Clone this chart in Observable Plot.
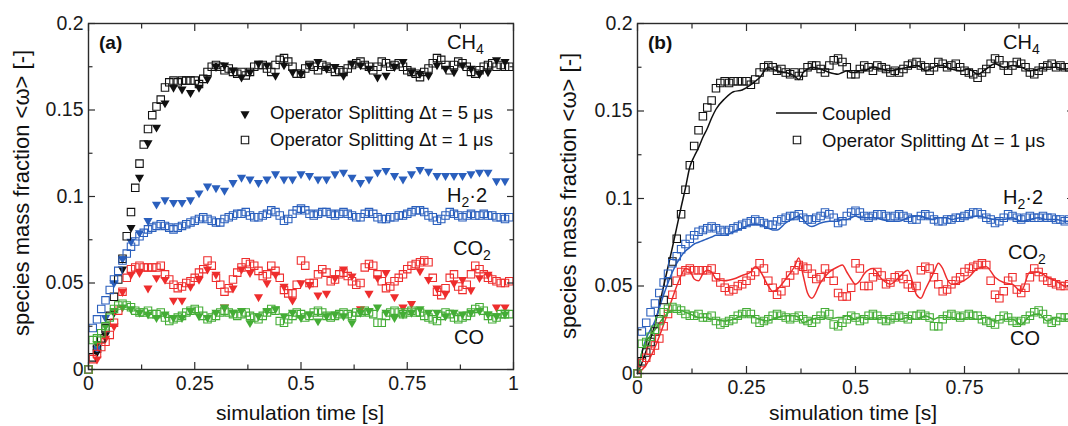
<!DOCTYPE html>
<html>
<head>
<meta charset="utf-8">
<script src="https://cdn.jsdelivr.net/npm/d3@7"></script>
<script src="https://cdn.jsdelivr.net/npm/@observablehq/plot@0.6"></script>
<style>
  html, body { margin: 0; padding: 0; background: #fff; }
  body { width: 1068px; height: 426px; overflow: hidden; position: relative;
         font-family: "Liberation Sans", Arial, sans-serif; }
  #pa { position: absolute; left: 0; top: 0; width: 540px; height: 426px; }
  #pb { position: absolute; left: 540px; top: 0; width: 543px; height: 426px; }
  #pa svg, #pb svg { max-width: none !important; display: block; }
  #ov { position: absolute; left: 0; top: 0; pointer-events: none; }
  #ov text { font-family: "Liberation Sans", Arial, sans-serif; fill: #111; }
</style>
</head>
<body>
<div id="pa"></div>
<div id="pb"></div>
<svg id="ov" width="1068" height="426"></svg>
<script>
// ---------------- data ----------------
// sampling times of the Operator Splitting dt = 1 us series (squares)
const tSq = [0.00,0.01,0.02,0.03,0.04,0.05,0.06,0.07,0.08,0.09,
  0.10,0.11,0.12,0.13,0.14,0.15,0.16,0.17,0.18,0.19,
  0.20,0.21,0.22,0.23,0.24,0.25,0.26,0.27,0.28,0.29,
  0.30,0.31,0.32,0.33,0.34,0.35,0.36,0.37,0.38,0.39,
  0.40,0.41,0.42,0.43,0.44,0.45,0.46,0.47,0.48,0.49,
  0.50,0.51,0.52,0.53,0.54,0.55,0.56,0.57,0.58,0.59,
  0.60,0.61,0.62,0.63,0.64,0.65,0.66,0.67,0.68,0.69,
  0.70,0.71,0.72,0.73,0.74,0.75,0.76,0.77,0.78,0.79,
  0.80,0.81,0.82,0.83,0.84,0.85,0.86,0.87,0.88,0.89,
  0.90,0.91,0.92,0.93,0.94,0.95,0.96,0.97,0.98,0.99];

const sqCH4 = [0.000,0.007,0.012,0.018,0.024,0.031,0.042,0.052,0.064,0.077,
  0.091,0.105,0.119,0.130,0.139,0.147,0.152,0.156,0.163,0.166,
  0.167,0.166,0.167,0.167,0.167,0.167,0.165,0.168,0.172,0.175,
  0.176,0.175,0.173,0.174,0.172,0.171,0.172,0.170,0.172,0.175,
  0.176,0.176,0.174,0.172,0.176,0.179,0.180,0.178,0.175,0.171,
  0.171,0.174,0.176,0.175,0.173,0.176,0.175,0.174,0.172,0.173,
  0.172,0.174,0.176,0.177,0.178,0.176,0.175,0.173,0.175,0.178,
  0.177,0.175,0.176,0.177,0.175,0.173,0.172,0.171,0.169,0.172,
  0.174,0.177,0.180,0.179,0.176,0.173,0.176,0.178,0.177,0.175,
  0.172,0.171,0.173,0.175,0.176,0.177,0.175,0.176,0.175,0.175];

const sqH2 = [0.000,0.024,0.029,0.035,0.040,0.046,0.052,0.057,0.063,0.067,
  0.071,0.074,0.077,0.079,0.081,0.082,0.083,0.084,0.083,0.082,
  0.081,0.082,0.083,0.084,0.085,0.086,0.087,0.088,0.087,0.086,
  0.085,0.085,0.087,0.088,0.089,0.090,0.090,0.091,0.089,0.088,
  0.088,0.089,0.090,0.092,0.091,0.089,0.086,0.087,0.090,0.092,
  0.093,0.092,0.090,0.089,0.090,0.091,0.091,0.090,0.089,0.090,
  0.091,0.090,0.089,0.088,0.088,0.090,0.091,0.090,0.088,0.087,
  0.087,0.088,0.088,0.089,0.089,0.090,0.091,0.092,0.092,0.091,
  0.089,0.088,0.086,0.087,0.089,0.091,0.090,0.089,0.088,0.089,
  0.090,0.089,0.089,0.090,0.089,0.089,0.088,0.088,0.087,0.088];

const sqCO2 = [0.000,0.006,0.009,0.013,0.016,0.020,0.027,0.034,0.045,0.053,
  0.058,0.059,0.060,0.059,0.059,0.059,0.059,0.060,0.055,0.052,
  0.049,0.047,0.048,0.050,0.051,0.053,0.056,0.058,0.063,0.060,
  0.053,0.049,0.045,0.047,0.052,0.056,0.059,0.062,0.061,0.060,
  0.057,0.054,0.055,0.060,0.057,0.053,0.046,0.044,0.044,0.049,
  0.063,0.060,0.050,0.050,0.055,0.058,0.056,0.051,0.052,0.055,
  0.056,0.054,0.051,0.049,0.050,0.059,0.061,0.060,0.055,0.051,
  0.047,0.048,0.051,0.053,0.055,0.058,0.060,0.061,0.062,0.063,
  0.062,0.053,0.045,0.043,0.047,0.053,0.055,0.048,0.046,0.049,
  0.055,0.060,0.058,0.055,0.053,0.052,0.051,0.050,0.050,0.051];

const sqCO = [0.000,0.017,0.018,0.021,0.025,0.030,0.035,0.037,0.038,0.037,
  0.036,0.034,0.033,0.033,0.034,0.032,0.032,0.033,0.030,0.028,
  0.029,0.030,0.031,0.033,0.034,0.035,0.034,0.031,0.029,0.030,
  0.031,0.033,0.034,0.033,0.032,0.031,0.032,0.033,0.031,0.030,
  0.029,0.031,0.033,0.035,0.034,0.028,0.027,0.029,0.031,0.033,
  0.032,0.030,0.031,0.033,0.034,0.033,0.031,0.030,0.031,0.032,
  0.033,0.032,0.031,0.033,0.033,0.034,0.033,0.032,0.027,0.027,
  0.031,0.033,0.034,0.033,0.032,0.033,0.034,0.033,0.033,0.031,
  0.030,0.029,0.028,0.031,0.033,0.032,0.030,0.029,0.030,0.031,
  0.033,0.035,0.036,0.034,0.031,0.029,0.030,0.032,0.032,0.032];

// sampling times of the Operator Splitting dt = 5 us series (triangles)
const tTri = [0.02,0.04,0.06,0.08,0.10,0.12,0.14,0.16,0.18,0.20,
  0.22,0.24,0.26,0.28,0.30,0.32,0.34,0.36,0.38,0.40,
  0.42,0.44,0.46,0.48,0.50,0.52,0.54,0.56,0.58,0.60,
  0.62,0.64,0.66,0.68,0.70,0.72,0.74,0.76,0.78,0.80,
  0.82,0.84,0.86,0.88,0.90,0.92,0.94,0.96,0.98];

const triCH4 = [0.010,0.020,0.033,0.058,0.082,0.111,0.131,0.140,0.154,0.163,
  0.162,0.160,0.163,0.168,0.175,0.176,0.173,0.169,0.172,0.177,
  0.176,0.170,0.176,0.172,0.171,0.176,0.178,0.174,0.175,0.170,
  0.177,0.176,0.174,0.169,0.170,0.175,0.178,0.172,0.171,0.170,
  0.176,0.174,0.172,0.176,0.174,0.171,0.172,0.179,0.178];

const triH2 = [0.012,0.030,0.050,0.064,0.074,0.079,0.086,0.0955,0.098,0.0965,
  0.0965,0.098,0.102,0.106,0.105,0.1035,0.108,0.111,0.110,0.108,
  0.110,0.113,0.110,0.110,0.113,0.112,0.110,0.110,0.113,0.114,
  0.111,0.108,0.110,0.114,0.115,0.112,0.110,0.113,0.1155,0.1145,
  0.112,0.112,0.112,0.112,0.113,0.114,0.114,0.109,0.109];

const triCO2 = [0.006,0.018,0.025,0.045,0.055,0.056,0.047,0.053,0.052,0.040,
  0.040,0.048,0.052,0.058,0.055,0.036,0.047,0.058,0.056,0.042,
  0.050,0.055,0.048,0.040,0.050,0.049,0.043,0.044,0.053,0.058,
  0.054,0.035,0.044,0.053,0.056,0.042,0.036,0.038,0.057,0.052,
  0.047,0.044,0.050,0.052,0.046,0.053,0.055,0.036,0.036];

const triCO = [0.015,0.025,0.034,0.036,0.035,0.033,0.032,0.030,0.032,0.030,
  0.030,0.034,0.031,0.030,0.033,0.036,0.033,0.034,0.027,0.031,
  0.034,0.035,0.031,0.033,0.030,0.032,0.028,0.031,0.032,0.031,
  0.027,0.033,0.034,0.036,0.033,0.030,0.032,0.033,0.035,0.033,
  0.033,0.031,0.033,0.032,0.033,0.034,0.032,0.031,0.032];

// Coupled solution (continuous lines, panel b)
const tLine = [0.00,0.01,0.02,0.04,0.06,0.08,0.10,0.11,0.12,0.13,0.14,0.15,0.16,0.17,0.18,
  0.20,0.22,0.24,0.26,0.27,0.28,0.30,0.31,0.32,0.34,0.36,0.37,0.38,0.39,0.40,
  0.42,0.44,0.46,0.47,0.48,0.49,0.50,0.51,0.52,0.54,0.56,0.58,0.60,0.62,0.64,
  0.65,0.66,0.68,0.69,0.70,0.71,0.72,0.74,0.76,0.78,0.80,0.82,0.84,0.86,0.88,
  0.90,0.92,0.94,0.96,0.98,1.00];

const lnCH4 = [0.000,0.006,0.013,0.028,0.050,0.072,0.095,0.106,0.118,0.124,0.129,0.135,0.140,0.146,0.151,
  0.157,0.161,0.162,0.165,0.167,0.169,0.175,0.174,0.173,0.172,0.170,0.168,0.172,0.174,0.175,
  0.174,0.172,0.171,0.172,0.173,0.172,0.172,0.173,0.173,0.175,0.174,0.173,0.174,0.175,0.176,
  0.175,0.173,0.175,0.176,0.176,0.175,0.174,0.173,0.174,0.171,0.174,0.177,0.175,0.176,0.175,
  0.173,0.174,0.175,0.175,0.174,0.175];

const lnH2 = [0.000,0.012,0.020,0.030,0.045,0.058,0.067,0.070,0.072,0.074,0.075,0.076,0.077,0.078,0.079,
  0.079,0.081,0.083,0.085,0.085,0.085,0.083,0.082,0.082,0.086,0.089,0.090,0.088,0.085,0.084,
  0.086,0.087,0.087,0.088,0.088,0.089,0.090,0.089,0.089,0.089,0.088,0.087,0.087,0.089,0.090,
  0.090,0.089,0.088,0.089,0.089,0.089,0.088,0.089,0.089,0.090,0.089,0.088,0.088,0.089,0.087,
  0.088,0.089,0.088,0.088,0.087,0.087];

const lnCO2 = [0.000,0.002,0.005,0.015,0.028,0.043,0.056,0.060,0.059,0.054,0.053,0.057,0.059,0.058,0.054,
  0.053,0.054,0.056,0.058,0.061,0.059,0.050,0.047,0.048,0.054,0.061,0.066,0.056,0.046,0.043,
  0.052,0.058,0.061,0.062,0.058,0.054,0.051,0.053,0.057,0.060,0.054,0.051,0.055,0.059,0.045,
  0.043,0.048,0.058,0.063,0.060,0.054,0.051,0.052,0.055,0.060,0.061,0.055,0.052,0.051,0.047,
  0.058,0.058,0.055,0.053,0.050,0.051];

const lnCO = [0.000,0.012,0.018,0.025,0.032,0.036,0.036,0.035,0.034,0.033,0.032,0.032,0.032,0.031,0.031,
  0.030,0.031,0.033,0.033,0.032,0.031,0.030,0.031,0.032,0.033,0.033,0.032,0.029,0.030,0.031,
  0.032,0.031,0.032,0.032,0.033,0.032,0.031,0.032,0.032,0.031,0.032,0.031,0.031,0.032,0.031,
  0.032,0.033,0.031,0.032,0.032,0.032,0.032,0.031,0.032,0.031,0.032,0.030,0.031,0.031,0.028,
  0.033,0.034,0.030,0.032,0.031,0.032];

const speciesNames = ["CH4", "H2", "CO2", "CO"];
const speciesColors = ["#111111", "#2a5fbd", "#ee2d2d", "#44ad36"];

const xTicks = [0, 0.25, 0.5, 0.75, 1];
const xTickLabels = ["0", "0.25", "0.5", "0.75", "1"];
const xLabelTicksB = [0, 0.25, 0.5, 0.75];   // panel (b): the "1" label is cropped off in the figure
const xMinor = [0.125, 0.375, 0.625, 0.875];
const yTicks = [0, 0.05, 0.1, 0.15, 0.2];
const yTickLabels = ["0", "0.05", "0.1", "0.15", "0.2"];
const yMinor = [0.025, 0.075, 0.125, 0.175];

// ---------------- build tables ----------------
const sqSeries = [sqCH4, sqH2, sqCO2, sqCO];
const triSeries = [triCH4, triH2, triCO2, triCO];
const lnSeries = [lnCH4, lnH2, lnCO2, lnCO];

function toRows(times, series) {
  const rows = [];
  series.forEach((vals, k) => vals.forEach((v, i) => rows.push({t: times[i], v, s: speciesNames[k]})));
  return rows;
}
const squares = toRows(tSq, sqSeries);
const triangles = toRows(tTri, triSeries);
const lines = toRows(tLine, lnSeries);

const xFmt = new Map(xTicks.map((v, i) => [v, xTickLabels[i]]));
const yFmt = new Map(yTicks.map((v, i) => [v, yTickLabels[i]]));
const axisInk = "#2b2b2b";

function frameAxes(xLabelTicks) {
  return [
    Plot.frame({stroke: axisInk, strokeWidth: 1.4}),
    Plot.axisX(xTicks, {anchor: "bottom", tickSize: -7, fill: "none", stroke: axisInk, strokeWidth: 1.2, label: null}),
    Plot.axisX(xMinor, {anchor: "bottom", tickSize: -4.5, fill: "none", stroke: axisInk, strokeWidth: 1.2, label: null}),
    Plot.axisX(xTicks, {anchor: "top", tickSize: -7, fill: "none", stroke: axisInk, strokeWidth: 1.2, label: null}),
    Plot.axisX(xMinor, {anchor: "top", tickSize: -4.5, fill: "none", stroke: axisInk, strokeWidth: 1.2, label: null}),
    Plot.axisY(yTicks, {anchor: "left", tickSize: -7, fill: "none", stroke: axisInk, strokeWidth: 1.2, label: null}),
    Plot.axisY(yMinor, {anchor: "left", tickSize: -4.5, fill: "none", stroke: axisInk, strokeWidth: 1.2, label: null}),
    Plot.axisY(yTicks, {anchor: "right", tickSize: -7, fill: "none", stroke: axisInk, strokeWidth: 1.2, label: null}),
    Plot.axisY(yMinor, {anchor: "right", tickSize: -4.5, fill: "none", stroke: axisInk, strokeWidth: 1.2, label: null}),
    Plot.axisX(xLabelTicks, {anchor: "bottom", tickSize: 0, tickPadding: 7, fill: "#1a1a1a", tickFormat: d => xFmt.get(d), label: null}),
    Plot.axisY(yTicks, {anchor: "left", tickSize: 0, tickPadding: 5, fill: "#1a1a1a", tickFormat: d => yFmt.get(d), label: null})
  ];
}

const common = {
  x: {domain: [0, 1]},
  y: {domain: [0, 0.2]},
  color: {domain: speciesNames, range: speciesColors},
  style: {fontFamily: "'Liberation Sans', Arial, sans-serif", fontSize: "19.5px", background: "transparent", color: "#1a1a1a", overflow: "visible", maxWidth: "none"}
};

const plotA = Plot.plot({
  ...common,
  width: 540, height: 426,
  marginLeft: 88, marginRight: 27, marginTop: 23, marginBottom: 57,
  marks: [
    Plot.dot(triangles, {x: "t", y: "v", fill: "s", symbol: "triangle", rotate: 180, r: 3.4, stroke: "none"}),
    Plot.dot(squares, {x: "t", y: "v", stroke: "s", symbol: "square", r: 4.2, strokeWidth: 1.1, fill: "none"}),
    ...frameAxes(xTicks)
  ]
});
document.getElementById("pa").append(plotA);

const plotB = Plot.plot({
  ...common,
  width: 543, height: 426,
  marginLeft: 97, marginRight: 10, marginTop: 23, marginBottom: 53,
  marks: [
    Plot.line(lines, {x: "t", y: "v", z: "s", stroke: "s", strokeWidth: 1.5, curve: "monotone-x"}),
    Plot.dot(squares, {x: "t", y: "v", stroke: "s", symbol: "square", r: 4.2, strokeWidth: 1.1, fill: "none"}),
    ...frameAxes(xLabelTicksB)
  ]
});
document.getElementById("pb").append(plotB);

// ---------------- annotations (titles, species labels, legends) ----------------
const ov = d3.select("#ov");
function label(x, y, main, sub, rest, size = 20) {
  const t = ov.append("text").attr("x", x).attr("y", y).style("font-size", size + "px");
  t.append("tspan").text(main);
  if (sub) t.append("tspan").attr("dy", 5).style("font-size", (size * 0.7) + "px").text(sub);
  if (rest) t.append("tspan").attr("dy", -5).text(rest);
}
// panel a
ov.append("text").attr("x", 99).attr("y", 49).style("font-size", "19px").style("font-weight", "bold").text("(a)");
label(447, 49, "CH", "4");
label(447, 202, "H", "2", "·2");
label(453, 255, "CO", "2");
label(454, 344, "CO");
// panel b
ov.append("text").attr("x", 648).attr("y", 49).style("font-size", "19px").style("font-weight", "bold").text("(b)");
label(1003, 49, "CH", "4");
label(1003, 204, "H", "2", "·2");
label(1008, 259, "CO", "2");
label(1010, 345, "CO");

// axis titles
[[300, 420], [853, 420]].forEach(([cx, by]) =>
  ov.append("text").attr("x", cx).attr("y", by).attr("text-anchor", "middle").style("font-size", "21px").text("simulation time [s]"));
[[29, 193], [576, 196]].forEach(([cx, cy]) =>
  ov.append("text").attr("transform", `translate(${cx},${cy}) rotate(-90)`).attr("text-anchor", "middle")
    .style("font-size", "22px").text("species mass fraction <ω> [-]"));

// legend panel a
const triPath = d3.symbol(d3.symbolTriangle, Math.PI * 3.4 * 3.4)();
const sqPath = d3.symbol(d3.symbolSquare, Math.PI * 4.2 * 4.2)();
ov.append("path").attr("d", triPath).attr("transform", "translate(245,114) rotate(180)").attr("fill", "#111");
ov.append("text").attr("x", 270).attr("y", 119).style("font-size", "18.5px").text("Operator Splitting \u0394t = 5 \u03bcs");
ov.append("path").attr("d", sqPath).attr("transform", "translate(245,140)").attr("fill", "none").attr("stroke", "#111").attr("stroke-width", 1.1);
ov.append("text").attr("x", 270).attr("y", 146).style("font-size", "18.5px").text("Operator Splitting \u0394t = 1 \u03bcs");
// legend panel b
ov.append("line").attr("x1", 776).attr("x2", 817).attr("y1", 113).attr("y2", 113).attr("stroke", "#111").attr("stroke-width", 1.5);
ov.append("text").attr("x", 822).attr("y", 119.5).style("font-size", "18.5px").text("Coupled");
ov.append("path").attr("d", sqPath).attr("transform", "translate(797,140)").attr("fill", "none").attr("stroke", "#111").attr("stroke-width", 1.1);
ov.append("text").attr("x", 822).attr("y", 146.5).style("font-size", "18.5px").text("Operator Splitting \u0394t = 1 \u03bcs");
</script>
</body>
</html>
